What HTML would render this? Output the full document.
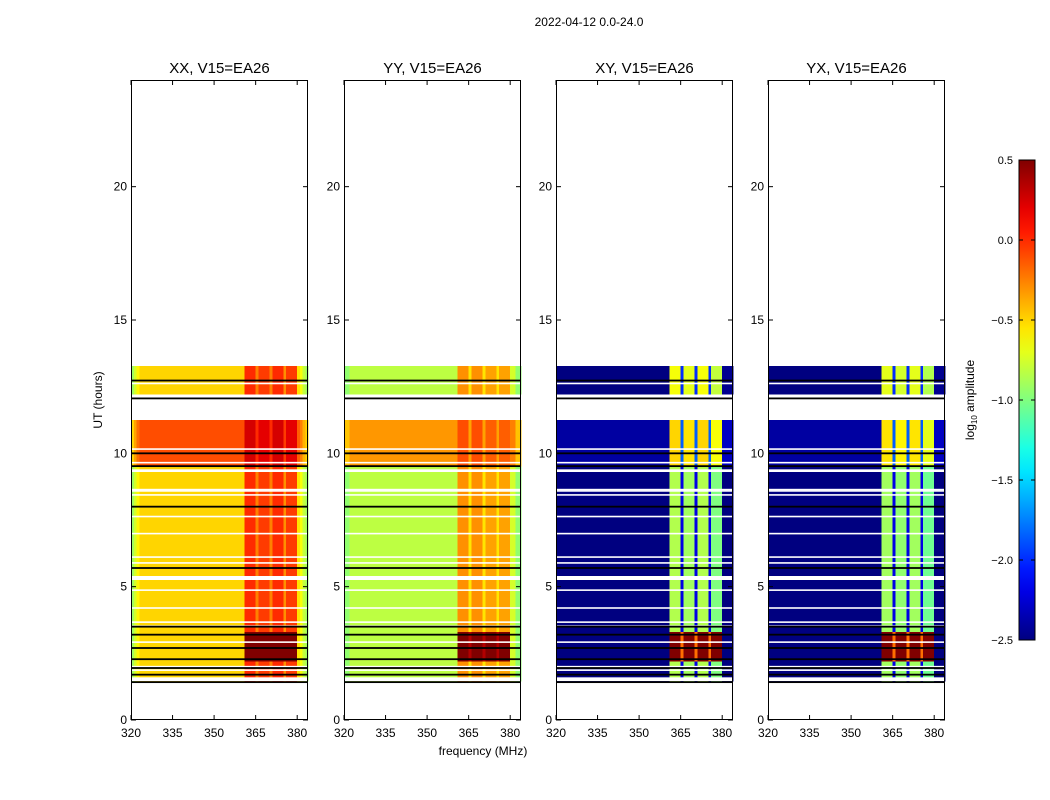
<!DOCTYPE html>
<html><head><meta charset="utf-8"><style>
body{margin:0;background:#fff;}
svg{display:block;font-family:"Liberation Sans",sans-serif;}
</style></head><body>
<svg id="fig" width="1050" height="800" viewBox="0 0 1050 800">
<rect width="1050" height="800" fill="#fff"/>
<text x="589" y="26" font-size="12" text-anchor="middle">2022-04-12 0.0-24.0</text>
<text x="483" y="755" font-size="12" text-anchor="middle">frequency (MHz)</text>
<text transform="translate(102,400) rotate(-90)" font-size="12" text-anchor="middle">UT (hours)</text>
<g id="panels"></g>
<g id="cbar"></g>
</svg>
<script>
// ---- data ----
const panelTitles = ["XX, V15=EA26","YY, V15=EA26","XY, V15=EA26","YX, V15=EA26"];
const channelFreqs = []; for (let f=320; f<384; f++) channelFreqs.push(f);
// spectra as segments: [startFreq, endFreqExclusive, log10 amp]
const specXX = [[320,321,-0.9],[321,322,-0.75],[322,323,-0.6],[323,361,-0.5],[361,365,0.0],[365,366,-0.25],[366,370,-0.05],[370,371,-0.25],[371,375,0.0],[375,376,-0.3],[376,380,-0.05],[380,381,-0.55],[381,382,-0.65],[382,383,-0.8],[383,384,-0.9]];
const specYY = [[320,322,-0.95],[322,361,-0.82],[361,365,-0.3],[365,366,-0.55],[366,370,-0.3],[370,371,-0.55],[371,375,-0.35],[375,376,-0.55],[376,380,-0.35],[380,382,-0.75],[382,384,-0.95]];
const specXY = [[320,361,-2.7],[361,365,-0.85],[365,366,-2.2],[366,370,-0.9],[370,371,-2.2],[371,375,-0.85],[375,376,-2.2],[376,380,-1.0],[380,384,-2.6]];
const specYX = [[320,361,-2.7],[361,365,-0.9],[365,366,-2.2],[366,370,-0.95],[370,371,-2.2],[371,375,-0.9],[375,376,-2.2],[376,380,-1.05],[380,384,-2.6]];
const spectra = [specXX, specYY, specXY, specYX];
// time segments (hours)
const segStart = [12.2, 9.5, 3.3, 2.2, 1.45];
const segEnd   = [13.27, 11.25, 9.5, 3.3, 2.2];
const offBgXX = [0,0.4,0,0,0],       offBandXX = [0,0.25,0,0.8,0];
const offBgYY = [0,0.5,0,0,0],       offBandYY = [0,0.2,0,0.9,0];
const offBgXY = [0.15,0.3,0,0,0.05], offBandXY = [0.2,0.35,0,2.0,0];
const offBgYX = [0.15,0.3,0,0,0.05], offBandYX = [0.2,0.35,0,2.0,0];
const offBg = [offBgXX, offBgYY, offBgXY, offBgYX];
const offBand = [offBandXX, offBandYY, offBandXY, offBandYX];
const whiteLines = [12.62,10.16,9.65,8.64,8.59,8.44,7.63,6.99,6.11,5.89,4.87,4.2,3.67,3.52,2.92,1.87];
const whiteGaps = [[12.06,12.2],[9.3,9.4],[5.25,5.4],[1.95,2.03],[1.46,1.6]];
const blackLines = [12.73,12.06,10.0,9.52,8.0,5.7,3.5,3.2,2.7,2.28,1.95,1.7,1.42];
const yTicks = [0,5,10,15,20];
const xTicks = [320,335,350,365,380];
const cbTicks = [-2.5,-2.0,-1.5,-1.0,-0.5,0.0,0.5];
const cbLabels = ["\u22122.5","\u22122.0","\u22121.5","\u22121.0","\u22120.5","0.0","0.5"];

// ---- helpers ----
const NS="http://www.w3.org/2000/svg";
const panelLeft=[131,344,556,768], PW=177, TOP=80, BOT=720;
const VMIN=-2.5, VMAX=0.5;
function yS(t){return BOT - t*(BOT-TOP)/24;}
function xS(p,f){return panelLeft[p] + (f-320)*2.77;}
function jet(v){
  let x=Math.max(0,Math.min(1,(v-VMIN)/(VMAX-VMIN)));
  const c=t=>Math.round(255*Math.max(0,Math.min(1,t)));
  const r=c(Math.min(4*x-1.5,-4*x+4.5)), g=c(Math.min(4*x-0.5,-4*x+3.5)), b=c(Math.min(4*x+0.5,-4*x+2.5));
  return `rgb(${r},${g},${b})`;
}
function mk(tag,attrs,parent){const e=document.createElementNS(NS,tag);for(const k in attrs)e.setAttribute(k,attrs[k]);parent.appendChild(e);return e;}
function specVal(spec,f){for(const s of spec){if(f>=s[0]&&f<s[1])return s[2];}return VMIN;}

const root=document.getElementById('panels');
for(let p=0;p<4;p++){
  const g=mk('g',{},root);
  
  
  const hm=mk('g',{'shape-rendering':'crispEdges'},g);
  
  
  for(let s=0;s<segStart.length;s++){
    const y0=yS(segEnd[s]), y1=yS(segStart[s]);
    for(const f of channelFreqs){
      const band=(f>=361&&f<380);
      const v=specVal(spectra[p],f)+(band?offBand[p][s]:offBg[p][s]);
      const r=mk('rect',{x:xS(p,f),y:y0,width:2.9,height:y1-y0,fill:jet(v)},hm);
      
      
    }
  }
  for(const t of whiteLines){
    const r=mk('rect',{x:panelLeft[p],y:yS(t)-0.8,width:PW,height:1.6,fill:'#fff'},g);
    
    
  }
  for(const w of whiteGaps){
    const r=mk('rect',{x:panelLeft[p],y:yS(w[1]),width:PW,height:yS(w[0])-yS(w[1]),fill:'#fff'},g);
    
    
  }
  for(const t of blackLines){
    const r=mk('rect',{x:panelLeft[p],y:yS(t)-0.9,width:PW,height:1.8,fill:'#000'},g);
    
    
  }
  const fr=mk('rect',{x:panelLeft[p]+0.5,y:TOP+0.5,width:PW-1,height:BOT-TOP-1,fill:'none',stroke:'#000','stroke-width':1},g);
  
  
  const tt=mk('text',{x:panelLeft[p]+PW/2,y:73,'font-size':15,'text-anchor':'middle'},g);
  tt.textContent=panelTitles[p];
  
  
  for(const t of yTicks){
    const y=yS(t);
    mk('line',{x1:panelLeft[p],x2:panelLeft[p]+5,y1:y,y2:y,stroke:'#000'},g);
    mk('line',{x1:panelLeft[p]+PW-5,x2:panelLeft[p]+PW,y1:y,y2:y,stroke:'#000'},g);
    const l=mk('text',{x:panelLeft[p]-4,y:y+4,'font-size':12,'text-anchor':'end'},g);
    l.textContent=t;
    
    
  }
  for(const f of xTicks){
    const x=xS(p,f);
    mk('line',{x1:x,x2:x,y1:BOT,y2:BOT-5,stroke:'#000'},g);
    mk('line',{x1:x,x2:x,y1:TOP,y2:TOP+5,stroke:'#000'},g);
    const l=mk('text',{x:x,y:BOT+17,'font-size':12,'text-anchor':'middle'},g);
    l.textContent=f;
    
    
  }
}
// colorbar
const cb=document.getElementById('cbar');


const CBX=1019,CBW=16,CBT=160,CBB=640;
const defs=mk('defs',{},cb);
const lg=mk('linearGradient',{id:'jetg',x1:0,y1:1,x2:0,y2:0},defs);
for(let i=0;i<=20;i++){mk('stop',{offset:i/20,'stop-color':jet(VMIN+i/20*(VMAX-VMIN))},lg);}
mk('rect',{x:CBX,y:CBT,width:CBW,height:CBB-CBT,fill:'url(#jetg)',stroke:'#000','stroke-width':1},cb);
function cbY(v){return CBB-(v-VMIN)/(VMAX-VMIN)*(CBB-CBT);}
cbTicks.forEach((v,i)=>{
  const y=cbY(v);
  mk('line',{x1:CBX,x2:CBX+4,y1:y,y2:y,stroke:'#000'},cb);
  mk('line',{x1:CBX+CBW-4,x2:CBX+CBW,y1:y,y2:y,stroke:'#000'},cb);
  const l=mk('text',{x:1013,y:y+4,'font-size':11,'text-anchor':'end'},cb);
  l.textContent=cbLabels[i];
  
  
});
const cl=mk('text',{transform:'translate(974,400) rotate(-90)','font-size':12,'text-anchor':'middle'},cb);
cl.innerHTML='log<tspan font-size="8" dy="3">10</tspan><tspan dy="-3"> amplitude</tspan>';


</script>
</body></html>
